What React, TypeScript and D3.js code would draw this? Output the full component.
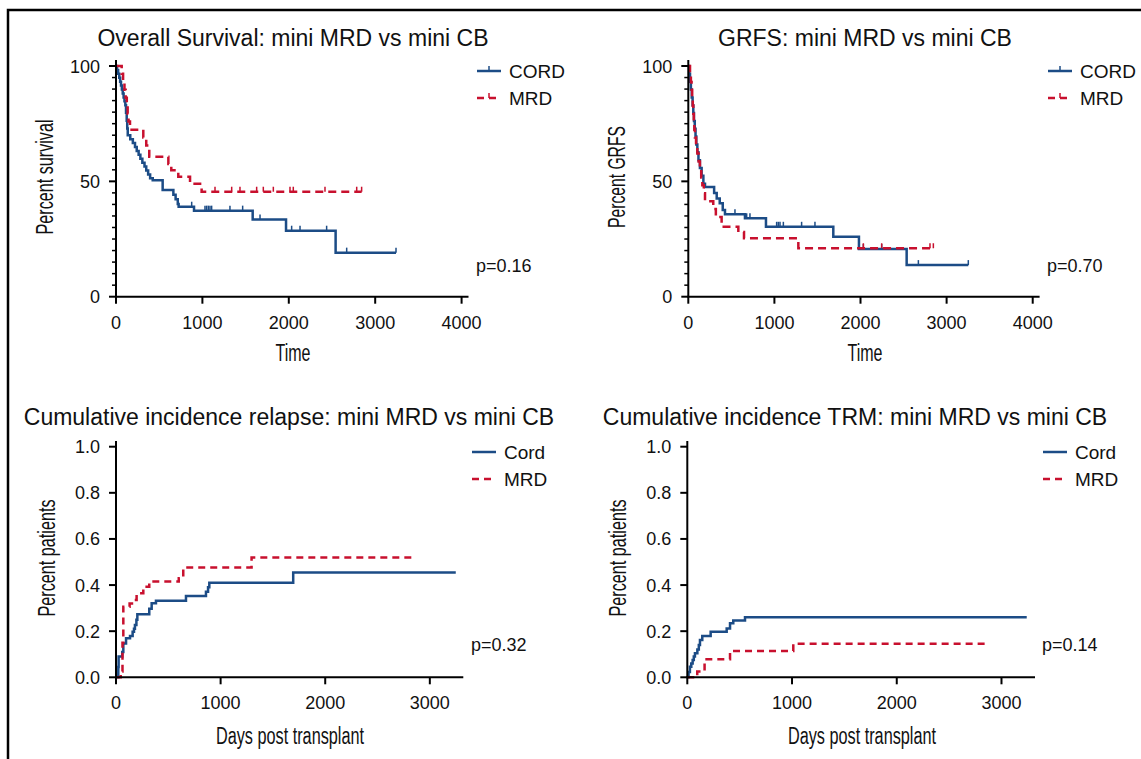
import React, { useRef, useEffect } from "react";
import * as d3 from "d3";

type Step = [number, number];

const BLUE = "#1c4c86";
const RED = "#c8102e";
const FONT = "'Liberation Sans', Arial, sans-serif";

// ---- Overall survival (days, % alive) ----
const osCord: Step[] = [
  [0, 100], [12, 98.3], [25, 96.6], [38, 94.9], [48, 93.2], [58, 91.5], [68, 89.8],
  [78, 88.1], [88, 86.4], [98, 84.7], [108, 83], [116, 79.7], [124, 76.3], [130, 72.9],
  [136, 70], [165, 68.3], [195, 66.6], [220, 64.9], [240, 63.2], [262, 61.5], [282, 59.8],
  [305, 58.1], [330, 56.4], [350, 54.7], [372, 53], [395, 51.3], [425, 50.5], [540, 46.2],
  [664, 44.2], [690, 42.2], [715, 40.2], [725, 39], [903, 37.3], [1582, 33.5], [1968, 28.6],
  [2542, 19.1],
];
const osCordEnd = 3241;
const osCordCensored = [876, 1030, 1049, 1069, 1088, 1107, 1319, 1466, 1667, 2033, 2130, 2438, 2670, 3241];
const osMrd: Step[] = [
  [0, 100], [66, 96.6], [82, 93.1], [98, 89.7], [112, 86.2], [125, 82.8], [135, 79.3],
  [145, 75.9], [162, 72.4], [316, 69], [350, 65.5], [385, 60.7], [606, 57.5], [640, 54.8],
  [721, 52], [857, 49], [991, 45.5],
];
const osMrdEnd = 2843;
const osMrdCensored = [1146, 1339, 1435, 1628, 1705, 1821, 2014, 2052, 2419, 2786, 2843];

// ---- GRFS ----
const grfsCord: Step[] = [
  [0, 100], [10, 96.6], [20, 93.2], [30, 89.8], [40, 86.4], [50, 83], [58, 79.6], [66, 76.2],
  [75, 72.8], [84, 69.4], [93, 66], [105, 62.6], [118, 59.2], [135, 55.8], [155, 52.4],
  [175, 49], [194, 47.5], [300, 45], [330, 42.6], [365, 40.5], [400, 37.6], [426, 35.7],
  [658, 34], [902, 30.3], [1684, 26], [1982, 20.7], [2536, 13.7],
];
const grfsCordEnd = 3252;
const grfsCordCensored = [542, 678, 716, 1026, 1045, 1065, 1104, 1316, 1471, 2033, 2246, 2672, 3252];
const grfsMrd: Step[] = [
  [0, 100], [20, 96.6], [30, 93.1], [38, 89.7], [45, 86.2], [52, 82.8], [58, 79.3], [64, 75.9],
  [70, 72.4], [77, 69], [90, 65.5], [105, 62.1], [120, 58.6], [135, 55.2], [150, 51.7],
  [163, 48.3], [180, 44.8], [194, 41.4], [290, 38], [320, 34.5], [387, 30.3], [581, 28],
  [647, 25.3], [1278, 21],
];
const grfsMrdEnd = 2846;
const grfsMrdCensored = [2033, 2246, 2807, 2846];

// ---- Cumulative incidence relapse ----
const relCord: Step[] = [
  [0, 0], [22, 0.045], [25, 0.09], [60, 0.11], [70, 0.147], [96, 0.169], [134, 0.179],
  [159, 0.198], [172, 0.21], [181, 0.227], [195, 0.25], [204, 0.273], [318, 0.297],
  [341, 0.321], [382, 0.332], [669, 0.353], [860, 0.371], [880, 0.39], [892, 0.41], [1694, 0.455],
];
const relCordEnd = 3248;
const relMrd: Step[] = [
  [0, 0], [45, 0.025], [62, 0.15], [70, 0.306], [130, 0.32], [166, 0.335], [197, 0.364],
  [261, 0.393], [318, 0.415], [600, 0.43], [643, 0.476], [1296, 0.519],
];
const relMrdEnd = 2840;

// ---- Cumulative incidence TRM ----
const trmCord: Step[] = [
  [0, 0], [12, 0.023], [25, 0.046], [38, 0.06], [51, 0.075], [62, 0.09], [73, 0.104],
  [96, 0.121], [110, 0.14], [121, 0.162], [143, 0.179], [223, 0.198], [376, 0.212],
  [408, 0.234], [439, 0.246], [551, 0.26],
];
const trmCordEnd = 3241;
const trmMrd: Step[] = [[0, 0], [95, 0.025], [165, 0.078], [408, 0.114], [1012, 0.146]];
const trmMrdEnd = 2843;

const kmXTicks = [0, 1000, 2000, 3000, 4000];
const kmYTicks = [0, 50, 100];
const ciXTicks = [0, 1000, 2000, 3000];
const ciYTicks = [0, 0.2, 0.4, 0.6, 0.8, 1.0];

const titles = [
  "Overall Survival: mini MRD vs mini CB",
  "GRFS: mini MRD vs mini CB",
  "Cumulative incidence relapse: mini MRD vs mini CB",
  "Cumulative incidence TRM: mini MRD vs mini CB",
];
const pValues = ["p=0.16", "p=0.70", "p=0.32", "p=0.14"];

function App() {
  const svgRef = useRef<SVGSVGElement | null>(null);

  useEffect(() => {
    const svg = d3.select(svgRef.current);
    svg.selectAll("*").remove();

    // frame
    svg
      .append("path")
      .attr("d", "M8,760 V10 H1142")
      .attr("fill", "none")
      .attr("stroke", "#000")
      .attr("stroke-width", 2.5);

    const panels = [
      {
        title: titles[0], titleX: 293, titleY: 46,
        xr: [116, 468.5], xMax: 4080, xTicks: kmXTicks,
        yr: [296.7, 66], yMax: 100, yTicks: kmYTicks, yFmt: (d: number) => `${d}`, minor: 5, yTop: 60,
        yLabel: "Percent survival", yLabelX: 53, yLabelY: 177, yLabelLen: 115,
        xLabel: "Time", xLabelX: 293, xLabelY: 361, xLabelLen: 35,
        series: [
          { steps: osCord, end: osCordEnd, cens: osCordCensored, color: BLUE, dash: null },
          { steps: osMrd, end: osMrdEnd, cens: osMrdCensored, color: RED, dash: "8,5" },
        ],
        legend: { x: 477, y: 71, labels: ["CORD", "MRD"], km: true },
        p: pValues[0], pX: 476, pY: 272,
      },
      {
        title: titles[1], titleX: 865, titleY: 46,
        xr: [688.3, 1039.6], xMax: 4080, xTicks: kmXTicks,
        yr: [296.7, 66], yMax: 100, yTicks: kmYTicks, yFmt: (d: number) => `${d}`, minor: 5, yTop: 60,
        yLabel: "Percent GRFS", yLabelX: 625, yLabelY: 177, yLabelLen: 102,
        xLabel: "Time", xLabelX: 865, xLabelY: 361, xLabelLen: 35,
        series: [
          { steps: grfsCord, end: grfsCordEnd, cens: grfsCordCensored, color: BLUE, dash: null },
          { steps: grfsMrd, end: grfsMrdEnd, cens: grfsMrdCensored, color: RED, dash: "8,5" },
        ],
        legend: { x: 1048, y: 71, labels: ["CORD", "MRD"], km: true },
        p: pValues[1], pX: 1047, pY: 272,
      },
      {
        title: titles[2], titleX: 289, titleY: 425,
        xr: [116, 463.3], xMax: 3320, xTicks: ciXTicks,
        yr: [677.3, 446.7], yMax: 1, yTicks: ciYTicks, yFmt: d3.format(".1f"), minor: 0, yTop: 441,
        yLabel: "Percent patients", yLabelX: 55, yLabelY: 558, yLabelLen: 117,
        xLabel: "Days post transplant", xLabelX: 290, xLabelY: 744, xLabelLen: 148,
        series: [
          { steps: relCord, end: relCordEnd, cens: [], color: BLUE, dash: null },
          { steps: relMrd, end: relMrdEnd, cens: [], color: RED, dash: "7,5" },
        ],
        legend: { x: 472, y: 452, labels: ["Cord", "MRD"], km: false },
        p: pValues[2], pX: 471, pY: 651,
      },
      {
        title: titles[3], titleX: 855, titleY: 425,
        xr: [687.3, 1035], xMax: 3320, xTicks: ciXTicks,
        yr: [677.3, 446.7], yMax: 1, yTicks: ciYTicks, yFmt: d3.format(".1f"), minor: 0, yTop: 441,
        yLabel: "Percent patients", yLabelX: 626, yLabelY: 558, yLabelLen: 117,
        xLabel: "Days post transplant", xLabelX: 862, xLabelY: 744, xLabelLen: 148,
        series: [
          { steps: trmCord, end: trmCordEnd, cens: [], color: BLUE, dash: null },
          { steps: trmMrd, end: trmMrdEnd, cens: [], color: RED, dash: "7,5" },
        ],
        legend: { x: 1043, y: 452, labels: ["Cord", "MRD"], km: false },
        p: pValues[3], pX: 1042, pY: 651,
      },
    ];

    panels.forEach((p) => {
      const g = svg.append("g");
      const x = d3.scaleLinear().domain([0, p.xMax]).range(p.xr);
      const y = d3.scaleLinear().domain([0, p.yMax]).range(p.yr);
      const x0 = p.xr[0];
      const yb = p.yr[0];

      // title
      g.append("text")
        .attr("x", p.titleX)
        .attr("y", p.titleY)
        .attr("text-anchor", "middle")
        .style("font-family", FONT)
        .style("font-size", "23px")
        .attr("fill", "#111")
        .text(p.title);

      // curves
      const line = d3
        .line<Step>()
        .x((d) => x(d[0]))
        .y((d) => y(d[1]))
        .curve(d3.curveStepAfter);

      p.series.forEach((s) => {
        const last = s.steps[s.steps.length - 1];
        const pts: Step[] = [...s.steps, [s.end, last[1]]];
        g.append("path")
          .attr("d", line(pts))
          .attr("fill", "none")
          .attr("stroke", s.color)
          .attr("stroke-width", 2.5)
          .attr("stroke-dasharray", s.dash);

        const valueAt = (t: number) => {
          let v = s.steps[0][1];
          s.steps.forEach((st) => {
            if (st[0] <= t) v = st[1];
          });
          return v;
        };
        g.selectAll(null)
          .data(s.cens)
          .enter()
          .append("line")
          .attr("x1", (t) => x(t))
          .attr("x2", (t) => x(t))
          .attr("y1", (t) => y(valueAt(t)))
          .attr("y2", (t) => y(valueAt(t)) - 5)
          .attr("stroke", s.color)
          .attr("stroke-width", 1.5);
      });

      // axes
      g.append("line")
        .attr("x1", x0).attr("x2", x0)
        .attr("y1", yb).attr("y2", p.yTop)
        .attr("stroke", "#000").attr("stroke-width", 2);
      g.append("line")
        .attr("x1", x0 - 1).attr("x2", p.xr[1])
        .attr("y1", yb).attr("y2", yb)
        .attr("stroke", "#000").attr("stroke-width", 2);

      if (p.minor) {
        g.selectAll(null)
          .data(d3.range(0, p.yMax + 0.1, p.minor).filter((v) => !p.yTicks.includes(v)))
          .enter()
          .append("line")
          .attr("x1", x0 - 4).attr("x2", x0)
          .attr("y1", (v) => y(v)).attr("y2", (v) => y(v))
          .attr("stroke", "#000").attr("stroke-width", 1.5);
      }

      p.yTicks.forEach((v) => {
        g.append("line")
          .attr("x1", x0 - 7).attr("x2", x0)
          .attr("y1", y(v)).attr("y2", y(v))
          .attr("stroke", "#000").attr("stroke-width", 2);
        g.append("text")
          .attr("x", x0 - 16)
          .attr("y", y(v) + 6.5)
          .attr("text-anchor", "end")
          .style("font-family", FONT)
          .style("font-size", "18px")
          .attr("fill", "#111")
          .text(p.yFmt(v));
      });

      p.xTicks.forEach((t) => {
        g.append("line")
          .attr("x1", x(t)).attr("x2", x(t))
          .attr("y1", yb).attr("y2", yb + 7)
          .attr("stroke", "#000").attr("stroke-width", 2);
        g.append("text")
          .attr("x", x(t))
          .attr("y", yb + 32)
          .attr("text-anchor", "middle")
          .style("font-family", FONT)
          .style("font-size", "18px")
          .attr("fill", "#111")
          .text(`${t}`);
      });

      // axis titles (condensed look)
      g.append("text")
        .attr("transform", `translate(${p.yLabelX},${p.yLabelY}) rotate(-90)`)
        .attr("text-anchor", "middle")
        .attr("textLength", p.yLabelLen)
        .attr("lengthAdjust", "spacingAndGlyphs")
        .style("font-family", FONT)
        .style("font-size", "23px")
        .attr("fill", "#111")
        .text(p.yLabel);
      g.append("text")
        .attr("x", p.xLabelX)
        .attr("y", p.xLabelY)
        .attr("text-anchor", "middle")
        .attr("textLength", p.xLabelLen)
        .attr("lengthAdjust", "spacingAndGlyphs")
        .style("font-family", FONT)
        .style("font-size", "23px")
        .attr("fill", "#111")
        .text(p.xLabel);

      // legend
      p.legend.labels.forEach((lab, i) => {
        const ly = p.legend.y + i * 27;
        const s = p.series[i];
        g.append("line")
          .attr("x1", p.legend.x).attr("x2", p.legend.x + 24)
          .attr("y1", ly).attr("y2", ly)
          .attr("stroke", s.color)
          .attr("stroke-width", 2.5)
          .attr("stroke-dasharray", s.dash ? "7,5" : null);
        if (p.legend.km) {
          g.append("line")
            .attr("x1", p.legend.x + 12).attr("x2", p.legend.x + 12)
            .attr("y1", ly).attr("y2", ly - 5)
            .attr("stroke", s.color).attr("stroke-width", 1.5);
        }
        g.append("text")
          .attr("x", p.legend.x + 32)
          .attr("y", ly + 6.5)
          .style("font-family", FONT)
          .style("font-size", "19px")
          .attr("fill", "#111")
          .text(lab);
      });

      g.append("text")
        .attr("x", p.pX)
        .attr("y", p.pY)
        .style("font-family", FONT)
        .style("font-size", "18px")
        .attr("fill", "#111")
        .text(p.p);
    });
  }, []);

  return (
    <div style={{ position: "absolute", left: 0, top: 0, background: "#fff" }}>
      <svg ref={svgRef} width={1141} height={759} style={{ display: "block" }} />
    </div>
  );
}

export default App;
